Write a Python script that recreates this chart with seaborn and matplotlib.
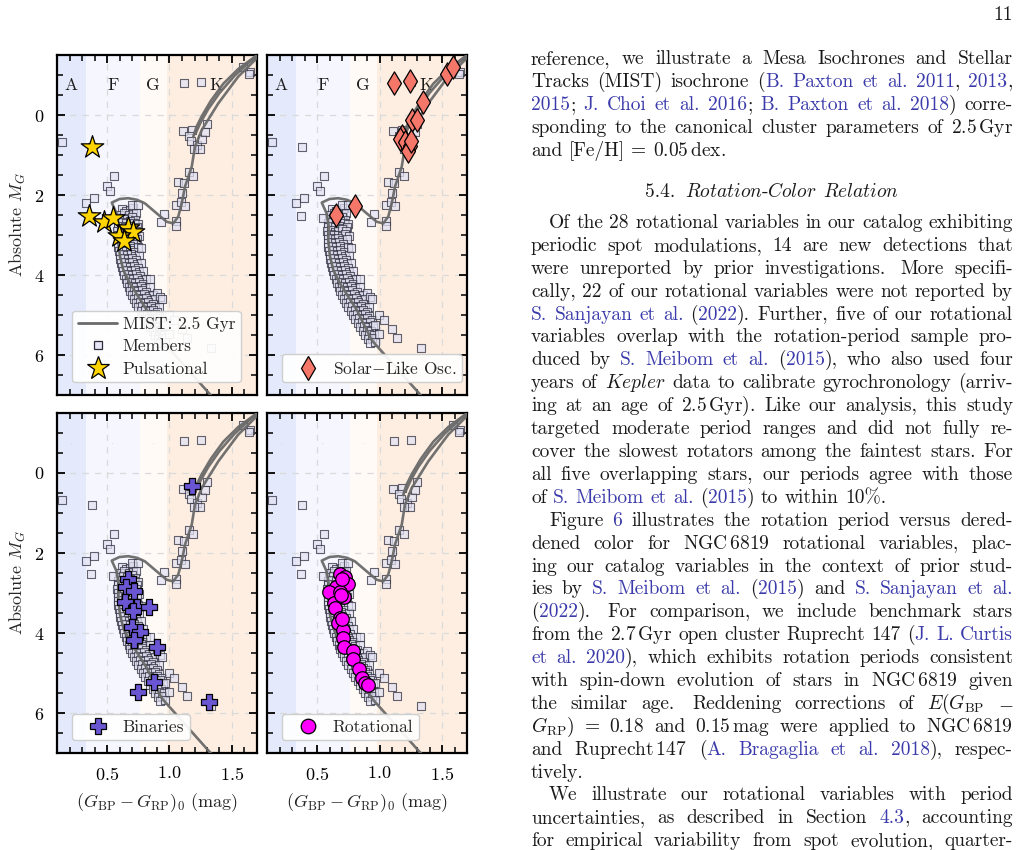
import matplotlib
matplotlib.use("Agg")
import matplotlib.pyplot as plt
from matplotlib.lines import Line2D
from matplotlib.ticker import MultipleLocator
import seaborn as sns

W, H = 1020, 850

# ---------------- data ----------------
# spectral-type bands in (BP-RP)_0
band_edges = [0.1, 0.33, 0.76, 0.98, 1.7]
band_colors = ["#e4e9fb", "#f5f6fe", "#fffaf6", "#fdeee1"]
band_letters = ["A", "F", "G", "K"]
letter_x = [0.215, 0.545, 0.87, 1.37]

# MIST 2.5 Gyr isochrone, main sequence -> subgiants -> RGB
iso_x = [1.40, 1.34, 0.938, 0.858, 0.818, 0.75, 0.684, 0.63, 0.604, 0.59, 0.595, 0.577,
         0.538, 0.60, 0.67, 0.74, 0.804, 0.898, 0.978, 1.03, 1.07, 1.098, 1.124, 1.15,
         1.178, 1.204, 1.258, 1.39, 1.55, 1.684, 1.75]
iso_y = [7.4, 7.04, 5.63, 5.13, 4.87, 4.54, 4.21, 3.87, 3.54, 3.12, 2.80, 2.46,
         2.19, 2.10, 2.08, 2.12, 2.21, 2.46, 2.67, 2.71, 2.54, 2.21, 1.79, 1.55,
         1.29, 0.79, 0.375, -0.29, -0.96, -1.375, -1.6]
# clump / asymptotic giant branch pieces
agb_x = [1.19, 1.215, 1.26, 1.33, 1.43, 1.55, 1.68, 1.76]
agb_y = [0.55, 0.30, 0.02, -0.35, -0.78, -1.15, -1.45, -1.62]
agb2_x = [1.21, 1.25, 1.31, 1.40, 1.52, 1.64, 1.76]
agb2_y = [0.45, 0.18, -0.15, -0.55, -0.98, -1.33, -1.62]

# cluster members: upper main sequence / turn-off
upper_ms_x = [0.618, 0.652, 0.688, 0.712, 0.602, 0.638, 0.673, 0.709, 0.735,
              0.594, 0.627, 0.661, 0.697, 0.726, 0.589, 0.619, 0.653, 0.686, 0.719, 0.748,
              0.586, 0.611, 0.644, 0.677, 0.706, 0.737, 0.583, 0.614, 0.641, 0.669, 0.701, 0.729,
              0.585, 0.609, 0.637, 0.667, 0.696, 0.723, 0.752, 0.587, 0.613, 0.643, 0.671, 0.703, 0.739,
              0.589, 0.616, 0.646, 0.677, 0.707, 0.591, 0.621, 0.651, 0.681, 0.713, 0.746,
              0.596, 0.625, 0.656, 0.686, 0.719, 0.601, 0.631, 0.661, 0.691, 0.723, 0.753,
              0.606, 0.636, 0.667, 0.698, 0.731, 0.613, 0.643, 0.673, 0.704, 0.737, 0.771,
              0.621, 0.651, 0.681, 0.713, 0.746]
upper_ms_y = [2.36, 2.40, 2.37, 2.33, 2.49, 2.46, 2.51, 2.47, 2.44,
              2.60, 2.57, 2.61, 2.56, 2.62, 2.70, 2.67, 2.71, 2.66, 2.69, 2.72,
              2.80, 2.77, 2.81, 2.78, 2.82, 2.79, 2.90, 2.87, 2.92, 2.89, 2.86, 2.91,
              3.00, 2.97, 3.01, 2.99, 3.03, 2.98, 3.02, 3.10, 3.07, 3.11, 3.08, 3.12, 3.09,
              3.20, 3.17, 3.21, 3.18, 3.22, 3.30, 3.27, 3.31, 3.28, 3.32, 3.29,
              3.40, 3.37, 3.41, 3.38, 3.42, 3.50, 3.47, 3.51, 3.48, 3.52, 3.49,
              3.60, 3.57, 3.61, 3.58, 3.62, 3.70, 3.67, 3.71, 3.68, 3.72, 3.69,
              3.80, 3.77, 3.81, 3.78, 3.82]
# cluster members: lower main sequence
lower_ms_x = [0.629, 0.659, 0.691, 0.721, 0.753, 0.791, 0.638, 0.669, 0.701, 0.731, 0.763,
              0.649, 0.679, 0.711, 0.743, 0.776, 0.813, 0.661, 0.691, 0.723, 0.756, 0.789,
              0.673, 0.703, 0.736, 0.769, 0.801, 0.841, 0.687, 0.717, 0.749, 0.783, 0.816,
              0.701, 0.733, 0.766, 0.799, 0.833, 0.871, 0.902, 0.717, 0.749, 0.781, 0.814, 0.849, 0.886, 0.921,
              0.733, 0.766, 0.799, 0.831, 0.866, 0.751, 0.783, 0.816, 0.849, 0.883, 0.916,
              0.769, 0.801, 0.833, 0.866, 0.901, 0.787, 0.819, 0.851, 0.883, 0.919,
              0.806, 0.839, 0.871, 0.903, 0.936, 0.826, 0.859, 0.891, 0.923,
              0.846, 0.879, 0.911, 0.946, 0.866, 0.899, 0.931, 0.886, 0.919, 0.953,
              0.906, 0.939, 0.926, 0.961]
lower_ms_y = [3.90, 3.87, 3.91, 3.88, 3.92, 3.89, 4.00, 3.97, 4.01, 3.98, 4.02,
              4.10, 4.07, 4.11, 4.08, 4.12, 4.09, 4.20, 4.17, 4.21, 4.18, 4.22,
              4.30, 4.27, 4.31, 4.28, 4.32, 4.29, 4.40, 4.37, 4.41, 4.38, 4.42,
              4.50, 4.47, 4.51, 4.48, 4.52, 4.49, 4.45, 4.60, 4.57, 4.61, 4.58, 4.62, 4.59, 4.56,
              4.70, 4.67, 4.71, 4.68, 4.72, 4.80, 4.77, 4.81, 4.78, 4.82, 4.79,
              4.90, 4.87, 4.91, 4.88, 4.92, 5.00, 4.97, 5.01, 4.98, 5.02,
              5.10, 5.07, 5.11, 5.08, 5.12, 5.20, 5.17, 5.21, 5.18,
              5.30, 5.27, 5.31, 5.28, 5.40, 5.37, 5.41, 5.50, 5.47, 5.51,
              5.60, 5.57, 5.70, 5.67]
# cluster members: giants, blue stragglers and the rest
other_x = [0.138, 0.378, 0.558, 0.498, 0.524, 0.33, 0.399, 0.37, 0.551, 0.703, 0.751,
           0.959, 0.932, 1.05, 1.052, 1.05, 1.092, 1.124, 1.07, 1.118, 1.102, 1.156, 1.192,
           1.111, 1.179, 1.153, 1.175, 1.22, 1.258, 1.242, 1.198, 1.298, 1.287,
           1.644, 1.116, 1.252, 1.59, 1.634,
           0.996, 1.039, 1.097, 1.139, 1.33, 0.996, 0.962, 0.938, 0.769, 0.843]
other_y = [0.68, 0.81, 1.53, 1.77, 1.89, 2.20, 2.08, 2.52, 2.58, 2.25, 2.25,
           2.48, 2.67, 2.64, 2.77, 2.24, 2.17, 2.27, 1.68, 1.70, 1.95, 1.43, 1.52,
           0.41, 0.37, 0.52, 0.64, 0.75, 0.60, 0.85, 0.85, 0.22, 0.43,
           -1.07, -0.79, -0.83, -1.19, -1.03,
           5.00, 5.12, 5.35, 5.57, 5.83, 5.48, 5.25, 4.61, 3.33, 4.10]

# variable classes
puls_x = [0.378, 0.358, 0.476, 0.546, 0.671, 0.705, 0.598, 0.638]
puls_y = [0.81, 2.52, 2.67, 2.58, 2.83, 2.93, 3.03, 3.14]
solar_x = [1.119, 1.247, 1.537, 1.587, 1.345, 1.263, 1.303, 1.177, 1.164, 1.204,
           1.242, 1.231, 1.254, 0.804, 0.649]
solar_y = [-0.79, -0.84, -1.03, -1.19, -0.32, 0.125, 0.125, 0.52, 0.60, 0.68,
           0.77, 0.89, 0.64, 2.27, 2.50]
bin_x = [1.183, 0.666, 0.649, 0.716, 0.644, 0.743, 0.836, 0.71, 0.697, 0.764,
         0.716, 0.897, 0.876, 0.751, 1.316]
bin_y = [0.318, 2.66, 2.84, 2.94, 3.22, 3.34, 3.34, 3.45, 3.84, 3.97,
         4.18, 4.34, 5.22, 5.47, 5.72]
rot_x = [0.682, 0.724, 0.745, 0.649, 0.593, 0.682, 0.716, 0.634, 0.642, 0.682,
         0.671, 0.705, 0.705, 0.716, 0.791, 0.791, 0.837, 0.858, 0.884, 0.911,
         0.70, 0.69, 0.70]
rot_y = [2.525, 2.59, 2.775, 2.84, 2.98, 2.98, 3.09, 3.26, 3.38, 3.63,
         3.76, 3.93, 4.13, 4.34, 4.45, 4.65, 4.90, 5.13, 5.24, 5.30,
         2.65, 3.05, 3.66]

members_x = upper_ms_x + lower_ms_x + other_x
members_y = upper_ms_y + lower_ms_y + other_y

# ---------------- text column ----------------
col_top = [
    ("reference, we illustrate a Mesa Isochrones and Stellar", "j"),
    ("Tracks (MIST) isochrone (|B. Paxton et al. 2011|, |2013|,", "j"),
    ("|2015|; |J. Choi et al. 2016|; |B. Paxton et al. 2018|) corre-", "j"),
    (r"sponding to the canonical cluster parameters of 2.5$\,$Gyr", "j"),
    (r"and [Fe/H] = 0.05$\,$dex.", "l"),
]
section_title = r"5.4.  $\mathit{Rotation}$-$\mathit{Color}$ $\mathit{Relation}$"
col_body = [
    ("Of the 28 rotational variables in our catalog exhibiting", "i"),
    ("periodic spot modulations, 14 are new detections that", "j"),
    ("were unreported by prior investigations.  More specifi-", "j"),
    ("cally, 22 of our rotational variables were not reported by", "j"),
    ("|S. Sanjayan et al.| (|2022|). Further, five of our rotational", "j"),
    ("variables overlap with the rotation-period sample pro-", "j"),
    ("duced by |S. Meibom et al.| (|2015|), who also used four", "j"),
    (r"years of $\mathit{Kepler}$ data to calibrate gyrochronology (arriv-", "j"),
    (r"ing at an age of 2.5$\,$Gyr). Like our analysis, this study", "j"),
    ("targeted moderate period ranges and did not fully re-", "j"),
    ("cover the slowest rotators among the faintest stars. For", "j"),
    ("all five overlapping stars, our periods agree with those", "j"),
    ("of |S. Meibom et al.| (|2015|) to within 10%.", "l"),
    ("Figure |6| illustrates the rotation period versus dered-", "i"),
    (r"dened color for NGC$\,$6819 rotational variables, plac-", "j"),
    ("ing our catalog variables in the context of prior stud-", "j"),
    ("ies by |S. Meibom et al.| (|2015|) and |S. Sanjayan et al.|", "j"),
    ("(|2022|).  For comparison, we include benchmark stars", "j"),
    (r"from the 2.7$\,$Gyr open cluster Ruprecht 147 (|J. L. Curtis|", "j"),
    ("|et al. 2020|), which exhibits rotation periods consistent", "j"),
    (r"with spin-down evolution of stars in NGC$\,$6819 given", "j"),
    (r"the similar age.  Reddening corrections of $E(G_{\mathrm{BP}}$ $-$", "j"),
    (r"$G_{\mathrm{RP}})$ = 0.18 and 0.15$\,$mag were applied to NGC$\,$6819", "j"),
    (r"and Ruprecht$\,$147 (|A. Bragaglia et al. 2018|), respec-", "j"),
    ("tively.", "l"),
    ("We illustrate our rotational variables with period", "i"),
    ("uncertainties, as described in Section |4.3|, accounting", "j"),
    ("for empirical variability from spot evolution, quarter-", "j"),
]

# ---------------- style ----------------
sns.set_theme(style="ticks")
plt.rcParams.update({
    "font.family": ["cmr10"],
    "mathtext.fontset": "cm",
    "axes.formatter.use_mathtext": True,
    "axes.unicode_minus": False,
    "axes.linewidth": 1.6,
    "axes.edgecolor": "black",
})

ISO = "#6a6a6a"
INK = "#1a1a1a"
LINK = "#3b3bab"

fig = plt.figure(figsize=(W / 100, H / 100), dpi=100)


def add_panel(l, t, r, b):
    return fig.add_axes([l / W, 1 - b / H, (r - l) / W, (b - t) / H])


def base_panel(ax, letters):
    for lo, hi, c in zip(band_edges[:-1], band_edges[1:], band_colors):
        ax.axvspan(lo, hi, color=c, lw=0, zorder=0)
    for xv in [0.5, 1.0, 1.5]:
        ax.axvline(xv, color="#dadada", ls=(0, (5, 5)), lw=0.9, zorder=0.5)
    for yv in [0, 2, 4, 6]:
        ax.axhline(yv, color="#dadada", ls=(0, (5, 5)), lw=0.9, zorder=0.5)
    for lx, letter in zip(letter_x, band_letters):
        if letters:
            ax.text(lx, -0.73, letter, ha="center", va="center", fontsize=12.5, color=INK, zorder=1)
        else:
            ax.text(lx, -0.78, ".", ha="center", va="center", fontsize=4, color="#aaaaaa", zorder=1)
    sns.scatterplot(x=members_x, y=members_y, ax=ax, marker="s", s=32, color="#e2e2f4",
                    edgecolor="#2a2a3a", linewidth=0.8, alpha=0.72, zorder=2, legend=False)
    for sx, sy in [(iso_x, iso_y), (agb_x, agb_y), (agb2_x, agb2_y)]:
        sns.lineplot(x=sx, y=sy, ax=ax, sort=False, estimator=None, color=ISO, lw=1.9,
                     alpha=0.95, zorder=3, legend=False)
    ax.set_xlim(0.1, 1.7)
    ax.set_ylim(7.0, -1.5)
    ax.xaxis.set_major_locator(MultipleLocator(0.5))
    ax.xaxis.set_minor_locator(MultipleLocator(0.1))
    ax.yaxis.set_major_locator(MultipleLocator(2))
    ax.yaxis.set_minor_locator(MultipleLocator(0.5))
    ax.tick_params(which="both", direction="in", top=True, right=True, colors="black",
                   labelsize=13, pad=9)
    ax.tick_params(which="major", length=6, width=1.3)
    ax.tick_params(which="minor", length=4, width=1.1)
    ax.set_xlabel("")
    ax.set_ylabel("")


def legend(ax, handles, labels):
    leg = ax.legend(handles, labels, loc="lower left", bbox_to_anchor=(0.075, 0.037),
                    borderaxespad=0, fontsize=12.5, handlelength=2.3, handletextpad=0.3,
                    labelspacing=0.42, borderpad=0.32, frameon=True, fancybox=True,
                    framealpha=0.92, edgecolor="#cccccc")
    leg.set_zorder(10)


def proxy(marker, size, face, edge="black"):
    return Line2D([], [], ls="", marker=marker, markersize=size, markerfacecolor=face,
                  markeredgecolor=edge, markeredgewidth=0.9)


ax_tl = add_panel(57, 55, 257, 395)
ax_tr = add_panel(267, 55, 467, 395)
ax_bl = add_panel(57, 413, 257, 753)
ax_br = add_panel(267, 413, 467, 753)

for ax in [ax_tl, ax_tr]:
    base_panel(ax, True)
for ax in [ax_bl, ax_br]:
    base_panel(ax, False)

sns.scatterplot(x=puls_x, y=puls_y, ax=ax_tl, marker="*", s=290, color="#ffd400",
                edgecolor="black", linewidth=0.9, zorder=5, legend=False)
sns.scatterplot(x=solar_x, y=solar_y, ax=ax_tr, marker="d", s=140, color="#f4776a",
                edgecolor="black", linewidth=0.9, zorder=5, legend=False)
sns.scatterplot(x=bin_x, y=bin_y, ax=ax_bl, marker="P", s=125, color="#6a56d2",
                edgecolor="black", linewidth=0.9, zorder=5, legend=False)
sns.scatterplot(x=rot_x, y=rot_y, ax=ax_br, marker="o", s=95, color="#ff00ff",
                edgecolor="black", linewidth=0.9, zorder=5, legend=False)

legend(ax_tl,
       [Line2D([], [], color=ISO, lw=2.0),
        proxy("s", 5.5, "#e6e6f4", "#2a2a3a"),
        proxy("*", 17, "#ffd400")],
       ["MIST: 2.5 Gyr", "Members", "Pulsational"])
legend(ax_tr, [proxy("d", 12, "#f4776a")], [r"Solar$-$Like Osc."])
legend(ax_bl, [proxy("P", 11.5, "#6a56d2")], ["Binaries"])
legend(ax_br, [proxy("o", 10.5, "#ff00ff")], ["Rotational"])

for ax in [ax_tl, ax_tr]:
    ax.tick_params(labelbottom=False)
for ax in [ax_tr, ax_br]:
    ax.tick_params(labelleft=False)
for ax in [ax_tl, ax_bl]:
    ax.set_ylabel(r"Absolute $M_G$", fontsize=13, labelpad=4)
for ax in [ax_bl, ax_br]:
    ax.set_xlabel(r"$(G_{\mathrm{BP}}-G_{\mathrm{RP}})_0$ (mag)", fontsize=13, labelpad=6)

# ---------------- typeset right-hand column ----------------
BODY_PT = 14
BODY_PX = BODY_PT * 100 / 72
renderer = fig.canvas.get_renderer()
COL_L, COL_R, INDENT = 531, 1013, 18


def parse_words(line):
    words, pieces, buf = [], [], ""
    blue, math, lead = False, False, 0
    for ch in line:
        if ch == "|":
            if buf:
                pieces.append((buf, blue))
                buf = ""
            blue = not blue
        elif ch == " " and not math:
            if buf:
                pieces.append((buf, blue))
                buf = ""
            if pieces:
                words.append((pieces, lead))
                pieces, lead = [], 0
            lead += 1
        else:
            if ch == "$":
                math = not math
            buf += ch
    if buf:
        pieces.append((buf, blue))
    if pieces:
        words.append((pieces, lead))
    return words


def set_line(line, base_y, mode):
    items = []
    for pieces, lead in parse_words(line):
        arts = []
        for s, blue in pieces:
            t = fig.text(0, 0, s, fontsize=BODY_PT, color=LINK if blue else INK,
                         ha="left", va="baseline")
            arts.append((t, t.get_window_extent(renderer).width))
        items.append((arts, sum(w for _, w in arts), lead))
    weights = [1 + 0.45 * (lead - 1) for _, _, lead in items[1:]]
    total = sum(w for _, w, _ in items)
    x0 = COL_L + (INDENT if mode == "i" else 0)
    space = 0.333 * BODY_PX
    if mode in ("j", "i") and weights:
        space = max((COL_R - x0 - total) / sum(weights), 0.18 * BODY_PX)
    elif mode == "c":
        x0 = (COL_L + COL_R) / 2 - (total + space * sum(weights)) / 2
    x = x0
    for k, (arts, w, _) in enumerate(items):
        if k > 0:
            x += space * weights[k - 1]
        cx = x
        for t, tw in arts:
            t.set_position((cx / W, 1 - base_y / H))
            cx += tw
        x += w


fig.text(COL_R / W, 1 - 20 / H, "11", fontsize=BODY_PT, color=INK, ha="right", va="baseline")
for k, (line, mode) in enumerate(col_top):
    set_line(line, 64 + 23.0 * k, mode)
set_line(section_title, 197, "c")
for k, (line, mode) in enumerate(col_body):
    set_line(line, 228 + 22.9 * k, mode)

fig.savefig("out.png", dpi=100)
